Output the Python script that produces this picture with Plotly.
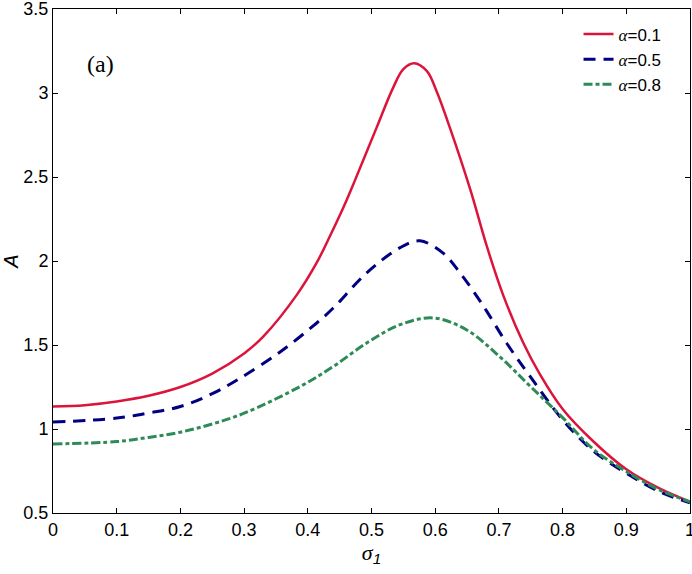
import plotly.graph_objects as go

x_a01 = [0, 0.05, 0.1, 0.15, 0.2, 0.25, 0.3, 0.33, 0.383, 0.414, 0.435, 0.456, 0.474, 0.508, 0.534, 0.55, 0.567, 0.587, 0.602, 0.623, 0.655, 0.681, 0.707, 0.738, 0.764, 0.8, 0.848, 0.9, 0.952, 1.0]
y_a01 = [1.134, 1.142, 1.164, 1.198, 1.25, 1.33, 1.45, 1.55, 1.80, 1.99, 2.15, 2.32, 2.48, 2.794, 3.032, 3.142, 3.177, 3.13, 3.012, 2.794, 2.426, 2.088, 1.794, 1.515, 1.328, 1.119, 0.927, 0.76, 0.646, 0.567]

x_a05 = [0, 0.1, 0.15, 0.2, 0.25, 0.294, 0.357, 0.414, 0.44, 0.4925, 0.545, 0.576, 0.613, 0.639, 0.66, 0.681, 0.712, 0.749, 0.8, 0.848, 0.9, 0.952, 1.0]
y_a05 = [1.041, 1.065, 1.095, 1.134, 1.21, 1.303, 1.46, 1.631, 1.72, 1.929, 2.08, 2.12, 2.045, 1.929, 1.82, 1.70, 1.512, 1.313, 1.055, 0.87, 0.737, 0.627, 0.561]

x_a08 = [0, 0.1, 0.15, 0.2, 0.25, 0.3, 0.388, 0.44, 0.4925, 0.545, 0.597, 0.649, 0.702, 0.749, 0.8, 0.848, 0.9, 0.952, 1.0]
y_a08 = [0.911, 0.925, 0.95, 0.981, 1.03, 1.094, 1.253, 1.372, 1.512, 1.621, 1.661, 1.591, 1.428, 1.255, 1.068, 0.88, 0.747, 0.637, 0.567]

alpha = "<i style='font-family:Liberation Serif'>α</i>"
names = [alpha + "=0.1", alpha + "=0.5", alpha + "=0.8"]

fig = go.Figure()
fig.add_trace(go.Scatter(x=x_a01, y=y_a01, mode="lines", name=names[0],
                         line=dict(color="rgb(220,20,60)", width=2.5, shape="spline", smoothing=1.0)))
fig.add_trace(go.Scatter(x=x_a05, y=y_a05, mode="lines", name=names[1],
                         line=dict(color="rgb(0,0,128)", width=3, dash="12px,8px", shape="spline", smoothing=1.0)))
fig.add_trace(go.Scatter(x=x_a08, y=y_a08, mode="lines", name=names[2],
                         line=dict(color="rgb(46,139,87)", width=3, dash="9px,3px,4px,3px", shape="spline", smoothing=1.0)))

axis_common = dict(showgrid=False, zeroline=False, showline=True, linecolor="black", linewidth=1,
                   mirror="ticks", ticks="inside", ticklen=5, tickcolor="black", automargin=False,
                   ticklabeloverflow="allow",
                   tickfont=dict(family="Liberation Sans", size=18, color="black"))

fig.update_xaxes(range=[0, 1], dtick=0.1, tick0=0, **axis_common,
                 title=dict(text="<i style='font-family:Liberation Serif'>σ</i><sub><i>1</i></sub>",
                            font=dict(family="Liberation Sans", size=22, color="black"), standoff=0))
fig.update_yaxes(range=[0.5, 3.5], dtick=0.5, tick0=0.5, **axis_common,
                 title=dict(text="<i>A</i>", font=dict(family="Liberation Sans", size=20, color="black"),
                            standoff=10))

fig.add_annotation(x=0.074, y=3.17, xref="x", yref="y", text="(a)", showarrow=False,
                   font=dict(family="Liberation Serif", size=24, color="black"))

fig.update_layout(
    width=692, height=574,
    margin=dict(l=53, r=2, t=9, b=61),
    paper_bgcolor="white", plot_bgcolor="white",
    legend=dict(x=0.825, y=0.985, xanchor="left", yanchor="top", bgcolor="rgba(0,0,0,0)",
                font=dict(family="Liberation Sans", size=17, color="black"),
                tracegroupgap=0),
    showlegend=True,
)

fig.write_html("out.html", config={"displayModeBar": False},
               post_script="document.body.style.margin='0';")
